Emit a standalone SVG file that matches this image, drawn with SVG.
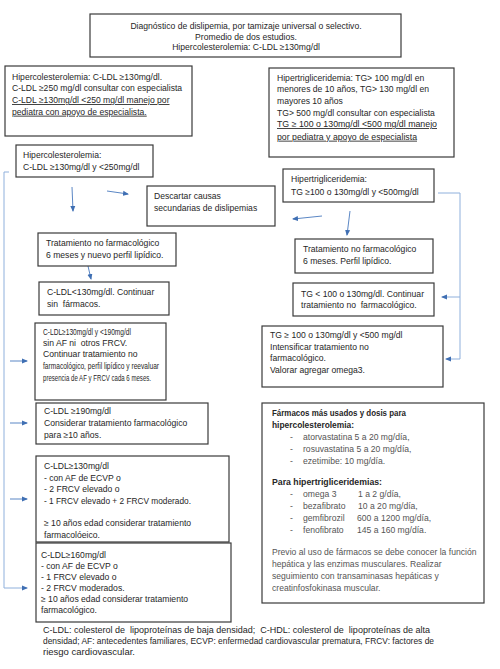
<svg xmlns="http://www.w3.org/2000/svg" width="500" height="669" viewBox="0 0 500 669">
<style>
text{font-family:"Liberation Sans",Arial,sans-serif;font-size:8.6px;fill:#262626;white-space:pre}
.box{fill:#fff;stroke:#3a3a3a;stroke-width:1.2}
.u{text-decoration:underline}
.g{fill:#555}
.b{font-weight:bold;fill:#262626}
.c{text-anchor:middle}
.ln{fill:none;stroke:#8fb0dc;stroke-width:1}
.ar{fill:none;stroke:#5b87c5;stroke-width:1}
</style>
<defs>
<marker id="ah" viewBox="0 0 6 6" refX="5" refY="3" markerWidth="6" markerHeight="6" orient="auto" markerUnits="userSpaceOnUse">
<path d="M0,0.5 L6,3 L0,5.5 Z" fill="#3f6fb3"/>
</marker>
</defs>
<rect width="500" height="669" fill="#fff"/>

<g id="connectors">
<path class="ln" d="M9,172 H4 V588 H27" marker-end="url(#ah)"/>
<path class="ar" d="M10,361 H27" marker-end="url(#ah)"/>
<path class="ar" d="M10,423 H27" marker-end="url(#ah)"/>
<path class="ar" d="M10,499 H27" marker-end="url(#ah)"/>
<path class="ar" d="M72,187 L73,211" marker-end="url(#ah)"/>
<path class="ar" d="M107,191 L128,194" marker-end="url(#ah)"/>
<path class="ar" d="M88,266 L91,279" marker-end="url(#ah)"/>
<path class="ar" d="M322,216 L293,219" marker-end="url(#ah)"/>
<path class="ar" d="M350,211 L347,235" marker-end="url(#ah)"/>
<path class="ln" d="M438,193 H460 V359 H446" marker-end="url(#ah)"/>
<path class="ln" d="M460,297 H442" marker-end="url(#ah)"/>
</g>

<g id="diagnostico">
<rect class="box" x="90" y="14" width="311" height="43"/>
<text class="c" x="246" y="29">Diagnóstico de dislipemia, por tamizaje universal o selectivo.</text>
<text class="c" x="246" y="39.5">Promedio de dos estudios.</text>
<text class="c" x="246" y="50">Hipercolesterolemia: C-LDL ≥130mg/dl</text>
</g>

<g id="hipercol-def">
<rect class="box" x="5" y="66" width="187" height="70"/>
<text x="12" y="79.7">Hipercolesterolemia: C-LDL ≥130mg/dl.</text>
<text x="12" y="91.3">C-LDL ≥250 mg/dl consultar con especialista</text>
<text class="u" x="12" y="103">C-LDL ≥130mg/dl &lt;250 mg/dl manejo por</text>
<text class="u" x="12" y="114.7">pediatra con apoyo de especialista.</text>
</g>

<g id="hipertrig-def">
<rect class="box" x="269" y="68" width="185" height="89"/>
<text x="277" y="80.7">Hipertrigliceridemia: TG&gt; 100 mg/dl en</text>
<text x="277" y="92.3">menores de 10 años, TG&gt; 130 mg/dl en</text>
<text x="277" y="103.7">mayores 10 años</text>
<text x="277" y="115.7">TG&gt; 500 mg/dl consultar con especialista</text>
<text class="u" x="277" y="127" textLength="160" lengthAdjust="spacingAndGlyphs">TG ≥ 100 o 130mg/dl &lt;500 mg/dl manejo</text>
<text class="u" x="277" y="139.7" textLength="140" lengthAdjust="spacingAndGlyphs">por pediatra y apoyo de especialista</text>
</g>

<g id="hipercol">
<rect class="box" x="16" y="145" width="137" height="32"/>
<text x="23" y="158">Hipercolesterolemia:</text>
<text x="23" y="169.7">C-LDL ≥130mg/dl y &lt;250mg/dl</text>
</g>

<g id="descartar">
<rect class="box" x="147" y="186" width="128" height="40"/>
<text x="154" y="199">Descartar causas</text>
<text x="154" y="211">secundarias de dislipemias</text>
</g>

<g id="hipertrig">
<rect class="box" x="283" y="169" width="151" height="33"/>
<text x="291" y="182.3">Hipertrigliceridemia:</text>
<text x="291" y="194.7">TG ≥100 o 130mg/dl y &lt;500mg/dl</text>
</g>

<g id="trat-left">
<rect class="box" x="38" y="233" width="138" height="33"/>
<text x="46" y="245.7">Tratamiento no farmacológico</text>
<text x="46" y="258.3">6 meses y nuevo perfil lipídico.</text>
</g>

<g id="ldl-lt130">
<rect class="box" x="39" y="282" width="130" height="33"/>
<text x="47" y="294.7">C-LDL&lt;130mg/dl. Continuar</text>
<text x="47" y="307">sin  fármacos.</text>
</g>

<g id="trat-right">
<rect class="box" x="295" y="239" width="138" height="34"/>
<text x="303" y="252.3">Tratamiento no farmacológico</text>
<text x="303" y="263.7">6 meses. Perfil lipídico.</text>
</g>

<g id="tg-lt100">
<rect class="box" x="293" y="283" width="141" height="33"/>
<text x="301" y="297">TG &lt; 100 o 130mg/dl. Continuar</text>
<text x="301" y="308">tratamiento no  farmacológico.</text>
</g>

<g id="ldl-130-190">
<rect class="box" x="35" y="323" width="131" height="77"/>
<text x="43" y="334.7" textLength="88" lengthAdjust="spacingAndGlyphs">C-LDL≥130mg/dl y &lt;190mg/dl</text>
<text x="43" y="345.7">sin AF ni  otros FRCV.</text>
<text x="43" y="357.3">Continuar tratamiento no</text>
<text x="43" y="369" textLength="116" lengthAdjust="spacingAndGlyphs">farmacológico, perfil lipídico y reevaluar</text>
<text x="43" y="381.3" textLength="108" lengthAdjust="spacingAndGlyphs">presencia de AF y FRCV cada 6 meses.</text>
</g>

<g id="tg-intens">
<rect class="box" x="262" y="326" width="181" height="61"/>
<text x="270" y="338">TG ≥ 100 o 130mg/dl y &lt;500 mg/dl</text>
<text x="270" y="349.7">Intensificar tratamiento no</text>
<text x="270" y="361">farmacológico.</text>
<text x="270" y="373">Valorar agregar omega3.</text>
</g>

<g id="ldl-190">
<rect class="box" x="36" y="403" width="172" height="41"/>
<text x="44" y="414">C-LDL ≥190mg/dl</text>
<text x="44" y="426">Considerar tratamiento farmacológico</text>
<text x="44" y="438">para ≥10 años.</text>
</g>

<g id="ldl-130-af">
<rect class="box" x="36" y="456" width="193" height="86"/>
<text x="44" y="469">C-LDL≥130mg/dl</text>
<text x="44" y="480.7">- con AF de ECVP o</text>
<text x="44" y="492.3">- 2 FRCV elevado o</text>
<text x="44" y="504" textLength="147" lengthAdjust="spacingAndGlyphs">- 1 FRCV elevado + 2 FRCV moderado.</text>
<text x="44" y="526.3">≥ 10 años edad considerar tratamiento</text>
<text x="44" y="537.7">farmacolóeico.</text>
</g>

<g id="ldl-160">
<rect class="box" x="36" y="543" width="195" height="79"/>
<text x="41" y="558">C-LDL≥160mg/dl</text>
<text x="41" y="569">- con AF de ECVP o</text>
<text x="41" y="580">- 1 FRCV elevado o</text>
<text x="41" y="591">- 2 FRCV moderados.</text>
<text x="41" y="602">≥ 10 años edad considerar tratamiento</text>
<text x="41" y="613">farmacológico.</text>
</g>

<g id="farmacos">
<rect class="box" x="262" y="403" width="222" height="200"/>
<text class="b" x="272" y="416" textLength="134" lengthAdjust="spacingAndGlyphs">Fármacos más usados y dosis para</text>
<text class="b" x="272" y="428" textLength="82" lengthAdjust="spacingAndGlyphs">hipercolesterolemia:</text>
<text class="g" x="290" y="440">-</text><text class="g" x="303" y="440">atorvastatina 5 a 20 mg/día,</text>
<text class="g" x="290" y="452">-</text><text class="g" x="303" y="452">rosuvastatina 5 a 20 mg/día,</text>
<text class="g" x="290" y="464">-</text><text class="g" x="303" y="464">ezetimibe: 10 mg/día.</text>
<text class="b" x="272" y="485" textLength="110" lengthAdjust="spacingAndGlyphs">Para hipertrigliceridemias:</text>
<text class="g" x="290" y="497">-</text><text class="g" x="303" y="497">omega 3</text><text class="g" x="358" y="497">1 a 2 g/día,</text>
<text class="g" x="290" y="509">-</text><text class="g" x="303" y="509">bezafibrato</text><text class="g" x="358" y="509">10 a 20 mg/día,</text>
<text class="g" x="290" y="521">-</text><text class="g" x="303" y="521">gemfibrozil</text><text class="g" x="357" y="521">600 a 1200 mg/día,</text>
<text class="g" x="290" y="533">-</text><text class="g" x="303" y="533">fenofibrato</text><text class="g" x="357" y="533">145 a 160 mg/día.</text>
<text class="g" x="272" y="555">Previo al uso de fármacos se debe conocer la función</text>
<text class="g" x="272" y="567">hepática y las enzimas musculares. Realizar</text>
<text class="g" x="272" y="579">seguimiento con transaminasas hepáticas y</text>
<text class="g" x="272" y="591">creatinfosfokinasa muscular.</text>
</g>

<g id="footnote">
<text x="43" y="632.7" textLength="387" lengthAdjust="spacingAndGlyphs">C-LDL: colesterol de  lipoproteínas de baja densidad;  C-HDL: colesterol de  lipoproteínas de alta</text>
<text x="43" y="643.7" textLength="391" lengthAdjust="spacingAndGlyphs">densidad; AF: antecedentes familiares, ECVP: enfermedad cardiovascular prematura, FRCV: factores de</text>
<text x="43" y="654.7" textLength="92" lengthAdjust="spacingAndGlyphs">riesgo cardiovascular.</text>
</g>
</svg>
